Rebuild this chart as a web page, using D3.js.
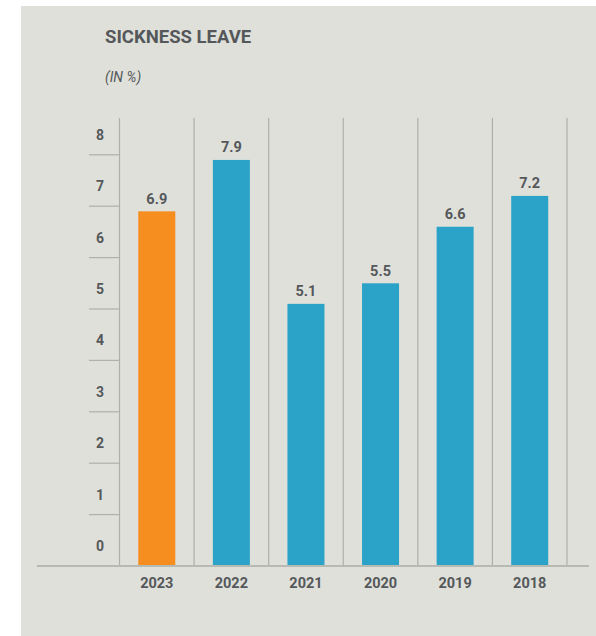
<!DOCTYPE html>
<html>
<head>
<meta charset="utf-8">
<script src="https://cdn.jsdelivr.net/npm/d3@7"></script>
<style>
  html, body { margin: 0; padding: 0; background: #ffffff; }
  svg { display: block; }
  text { font-family: Roboto, "Open Sans", sans-serif; fill: #55585a; }
</style>
</head>
<body>
<svg id="chart" width="596" height="636"></svg>
<script>
// Sickness leave by year, in percent
const years = ["2023", "2022", "2021", "2020", "2019", "2018"];
const values = [6.9, 7.9, 5.1, 5.5, 6.6, 7.2];
const barColors = ["#f58d1f", "#2ba2c7", "#2ba2c7", "#2ba2c7", "#2ba2c7", "#2ba2c7"];
const yTicks = [0, 1, 2, 3, 4, 5, 6, 7, 8];
const title = "SICKNESS LEAVE";
const subtitle = "(IN %)";

const svg = d3.select("#chart");

// panel background
svg.append("rect")
  .attr("x", 21).attr("y", 6)
  .attr("width", 575).attr("height", 630)
  .attr("fill", "#dfe0da");

const plot = { left: 119.5, right: 567, top: 118, bottom: 566 };

const x = d3.scaleBand()
  .domain(years)
  .range([plot.left, plot.right])
  .paddingInner(0)
  .paddingOuter(0);

const y = d3.scaleLinear()
  .domain([0, 8])
  .range([plot.bottom, plot.bottom - 8 * 51.4]);

const barWidth = 37;

// vertical separators between year columns
const seps = years.map(d => x(d)).concat([x(years[years.length - 1]) + x.bandwidth()]);
svg.append("g").selectAll("line")
  .data(seps)
  .join("line")
  .attr("x1", d => d).attr("x2", d => d)
  .attr("y1", plot.top).attr("y2", plot.bottom)
  .attr("stroke", "#aeb0ab")
  .attr("stroke-width", 1.2);

// y-axis tick marks and labels (labels sit between the marks)
const yg = svg.append("g");
yg.selectAll("line")
  .data(yTicks.filter(d => d > 0))
  .join("line")
  .attr("x1", 89).attr("x2", plot.left)
  .attr("y1", d => y(d)).attr("y2", d => y(d))
  .attr("stroke", "#aeb0ab")
  .attr("stroke-width", 1.2);
yg.selectAll("text")
  .data(yTicks)
  .join("text")
  .attr("x", 100)
  .attr("y", d => y(d) - 15)
  .attr("text-anchor", "middle")
  .attr("font-size", 14)
  .attr("font-weight", 700)
  .text(d => d);

// bars
svg.append("g").selectAll("rect")
  .data(values)
  .join("rect")
  .attr("x", (d, i) => x(years[i]) + (x.bandwidth() - barWidth) / 2)
  .attr("width", barWidth)
  .attr("y", d => y(d))
  .attr("height", d => y(0) - y(d))
  .attr("fill", (d, i) => barColors[i]);

// value labels
svg.append("g").selectAll("text")
  .data(values)
  .join("text")
  .attr("x", (d, i) => x(years[i]) + x.bandwidth() / 2)
  .attr("y", d => y(d) - 7.5)
  .attr("text-anchor", "middle")
  .attr("font-size", 14.5)
  .attr("font-weight", 700)
  .text(d => d.toFixed(1));

// baseline
svg.append("line")
  .attr("x1", 37).attr("x2", 589)
  .attr("y1", plot.bottom).attr("y2", plot.bottom)
  .attr("stroke", "#b7b9b3")
  .attr("stroke-width", 2);

// year labels
svg.append("g").selectAll("text")
  .data(years)
  .join("text")
  .attr("x", d => x(d) + x.bandwidth() / 2)
  .attr("y", 587.5)
  .attr("text-anchor", "middle")
  .attr("font-size", 14.5)
  .attr("font-weight", 700)
  .text(d => d);

// title and unit
svg.append("text")
  .attr("x", 105).attr("y", 43.3)
  .attr("font-size", 18.5)
  .attr("font-weight", 700)
  .text(title);
svg.append("text")
  .attr("x", 105).attr("y", 81.5)
  .attr("font-size", 14)
  .attr("font-style", "italic")
  .text(subtitle);
</script>
</body>
</html>
